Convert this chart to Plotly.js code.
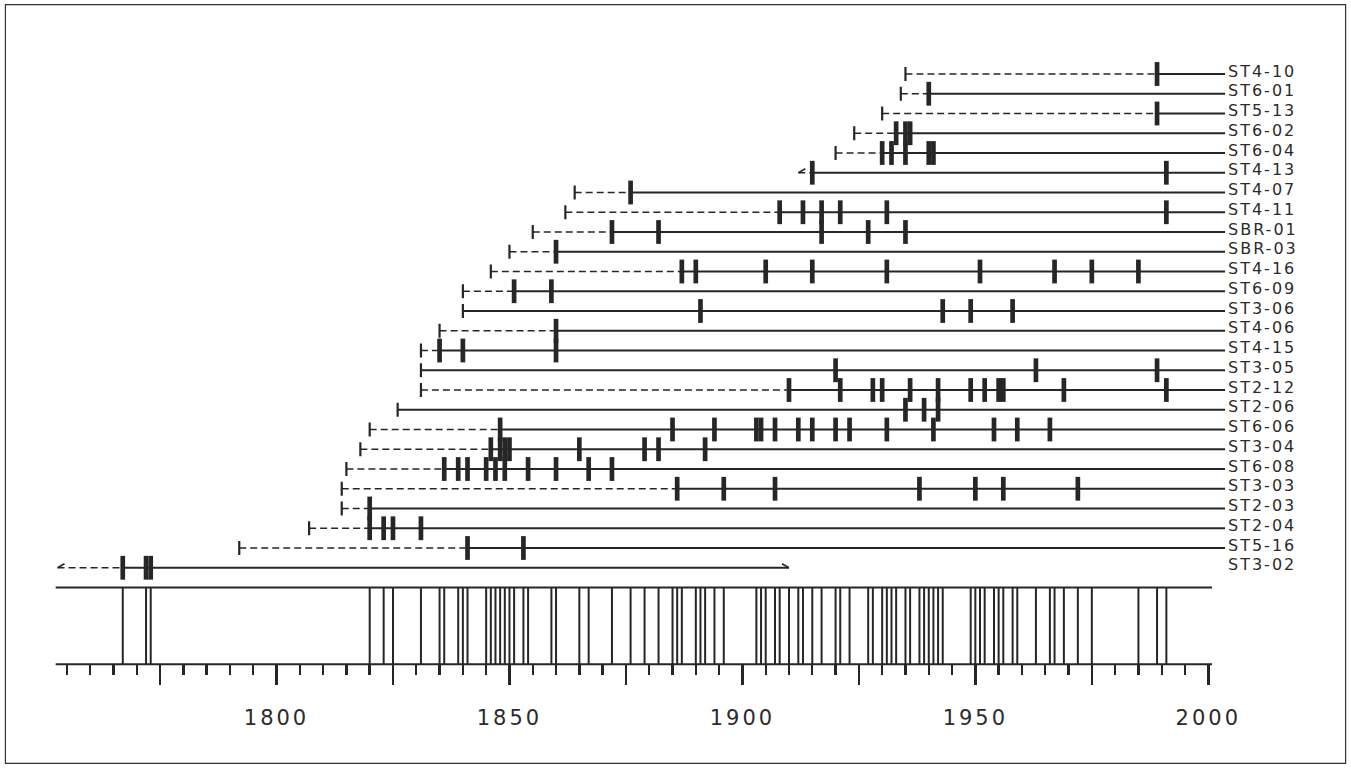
<!DOCTYPE html>
<html>
<head>
<meta charset="utf-8">
<script src="https://cdn.plot.ly/plotly-3.0.1.min.js"></script>
<style>
  html, body { margin: 0; padding: 0; background: #fff; }
  #chart { width: 1351px; height: 768px; }
  .annotation-text { letter-spacing: 2px; }
  .xtick text { letter-spacing: 3px; }
</style>
</head>
<body>
<div id="chart"></div>
<script>
// Fire-scar history: one row per sampled tree, composite of all scar years below.
const names = ['ST4-10', 'ST6-01', 'ST5-13', 'ST6-02', 'ST6-04', 'ST4-13', 'ST4-07', 'ST4-11',
  'SBR-01', 'SBR-03', 'ST4-16', 'ST6-09', 'ST3-06', 'ST4-06', 'ST4-15', 'ST3-05', 'ST2-12',
  'ST2-06', 'ST6-06', 'ST3-04', 'ST6-08', 'ST3-03', 'ST2-03', 'ST2-04', 'ST5-16', 'ST3-02'];

// innermost ring of each sample
const innerYear = [1935, 1934, 1930, 1924, 1920, 1912, 1864, 1862, 1855, 1850, 1846, 1840, 1840,
  1835, 1831, 1831, 1831, 1826, 1820, 1818, 1815, 1814, 1814, 1807, 1792, 1753];

// 'pith' = inner ring marked by a bar, 'open' = inner ring not reached (arrow)
const innerKind = ['pith', 'pith', 'pith', 'pith', 'pith', 'open', 'pith', 'pith', 'pith', 'pith',
  'pith', 'pith', 'pith', 'pith', 'pith', 'pith', 'pith', 'pith', 'pith', 'pith', 'pith', 'pith',
  'pith', 'pith', 'pith', 'open'];

// year from which the sample is a recorder (solid line); earlier years are dashed
const recorderFrom = [1989, 1940, 1989, 1933, 1930, 1915, 1876, 1908, 1872, 1860, 1887, 1851, 1840,
  1860, 1835, 1831, 1910, 1826, 1848, 1846, 1836, 1886, 1820, 1820, 1841, 1767];

// outermost ring where the sample stops short of the sampling date (null = runs to the label)
const outerYear = [null, null, null, null, null, null, null, null, null, null, null, null, null,
  null, null, null, null, null, null, null, null, null, null, null, null, 1910];

// fire-scar years per sample
const fireScars = [
  [1989],
  [1940],
  [1989],
  [1933, 1935, 1936],
  [1930, 1932, 1935, 1940, 1941],
  [1915, 1991],
  [1876],
  [1908, 1913, 1917, 1921, 1931, 1991],
  [1872, 1882, 1917, 1927, 1935],
  [1860],
  [1887, 1890, 1905, 1915, 1931, 1951, 1967, 1975, 1985],
  [1851, 1859],
  [1891, 1943, 1949, 1958],
  [1860],
  [1835, 1840, 1860],
  [1920, 1963, 1989],
  [1910, 1921, 1928, 1930, 1936, 1942, 1949, 1952, 1955, 1956, 1969, 1991],
  [1935, 1939, 1942],
  [1848, 1885, 1894, 1903, 1904, 1907, 1912, 1915, 1920, 1923, 1931, 1941, 1954, 1959, 1966],
  [1846, 1848, 1849, 1850, 1865, 1879, 1882, 1892],
  [1836, 1839, 1841, 1845, 1847, 1849, 1854, 1860, 1867, 1872],
  [1886, 1896, 1907, 1938, 1950, 1956, 1972],
  [1820],
  [1820, 1823, 1825, 1831],
  [1841, 1853],
  [1767, 1772, 1773]
];

// axis ticks
const majorTicks = [1775, 1800, 1825, 1850, 1875, 1900, 1925, 1950, 1975, 2000];
const majorLabels = ['', '1800', '', '1850', '', '1900', '', '1950', '', '2000'];
const minorTicks = [1755, 1760, 1765, 1770, 1780, 1785, 1790, 1795, 1805, 1810, 1815, 1820,
  1830, 1835, 1840, 1845, 1855, 1860, 1865, 1870, 1880, 1885, 1890, 1895, 1905, 1910, 1915,
  1920, 1930, 1935, 1940, 1945, 1955, 1960, 1965, 1970, 1980, 1985, 1990, 1995];

// ---- drawing ----
const INK = '#262626';
const LINE_END = 2003.6;      // series lines run up to the labels
const LABEL_X = 2003.8;
const AXIS_FROM = 1752.6, AXIS_TO = 2000.8;
const COMP_TOP = 26.0, COMP_BOTTOM = 29.89;   // composite band, in row units

const dashed = { x: [], y: [] };
const solid = { x: [], y: [] };
const pith = { x: [], y: [] };
const arrows = { x: [], y: [] };
const scars = { x: [], y: [] };

names.forEach((name, i) => {
  const end = outerYear[i] === null ? LINE_END : outerYear[i];
  if (recorderFrom[i] > innerYear[i]) {
    dashed.x.push(innerYear[i], recorderFrom[i], null);
    dashed.y.push(i, i, null);
  }
  solid.x.push(recorderFrom[i], end, null);
  solid.y.push(i, i, null);
  if (innerKind[i] === 'pith') {
    pith.x.push(innerYear[i]);
    pith.y.push(i);
  } else {
    arrows.x.push(innerYear[i] + 1.5, innerYear[i], null);
    arrows.y.push(i - 0.2, i, null);
  }
  if (outerYear[i] !== null) {
    arrows.x.push(outerYear[i] - 1.5, outerYear[i], null);
    arrows.y.push(i - 0.2, i, null);
  }
  fireScars[i].forEach(yr => { scars.x.push(yr); scars.y.push(i); });
});

// composite: every year scarred on at least one sample
const compositeYears = Array.from(new Set(fireScars.flat())).sort((a, b) => a - b);
const comp = { x: [], y: [] };
compositeYears.forEach(yr => { comp.x.push(yr, yr, null); comp.y.push(COMP_TOP, COMP_BOTTOM, null); });

const traces = [
  { x: dashed.x, y: dashed.y, mode: 'lines', line: { color: INK, width: 1.4, dash: '7px,4px' } },
  { x: solid.x, y: solid.y, mode: 'lines', line: { color: INK, width: 2 } },
  { x: arrows.x, y: arrows.y, mode: 'lines', line: { color: INK, width: 1.6 } },
  { x: pith.x, y: pith.y, mode: 'markers',
    marker: { symbol: 'line-ns', size: 10, line: { color: INK, width: 2.2 } } },
  { x: scars.x, y: scars.y, mode: 'markers',
    marker: { symbol: 'line-ns', size: 17, line: { color: INK, width: 4.7 } } },
  { x: comp.x, y: comp.y, mode: 'lines', line: { color: INK, width: 2 } },
  { x: [AXIS_FROM, AXIS_TO, null, AXIS_FROM, AXIS_TO], y: [COMP_TOP, COMP_TOP, null, COMP_BOTTOM, COMP_BOTTOM],
    mode: 'lines', line: { color: INK, width: 2 } }
].map(t => Object.assign({ type: 'scatter', hoverinfo: 'skip', showlegend: false, cliponaxis: false }, t));

const annotations = names.map((name, i) => ({
  x: LABEL_X, y: i, xref: 'x', yref: 'y', text: name, showarrow: false,
  xanchor: 'left', yanchor: 'middle', yshift: 3,
  font: { family: 'DejaVu Sans', size: 16, color: '#2b2b2b' }
}));

const layout = {
  width: 1351, height: 768,
  margin: { l: 0, r: 0, t: 0, b: 0 },
  paper_bgcolor: '#ffffff', plot_bgcolor: '#ffffff',
  showlegend: false,
  xaxis: {
    range: [1740.65, 2030.63], anchor: 'free', position: 1 - 664.3 / 768,
    showgrid: false, zeroline: false, showline: false,
    ticks: 'outside', tickmode: 'array', tickvals: majorTicks, ticktext: majorLabels,
    ticklen: 20, tickwidth: 2.4, tickcolor: INK, ticklabelstandoff: 14,
    tickfont: { family: 'DejaVu Sans', size: 21, color: '#2b2b2b' },
    minor: { tickmode: 'array', tickvals: minorTicks, ticks: 'outside', ticklen: 10, tickwidth: 2.4, tickcolor: INK }
  },
  yaxis: { range: [(768 - 74) / 19.75, -74 / 19.75], visible: false, showgrid: false, zeroline: false },
  annotations: annotations,
  shapes: [
    { type: 'rect', xref: 'paper', yref: 'paper', x0: 0.004, x1: 0.996, y0: 0.006, y1: 0.994,
      line: { color: '#333', width: 1.2 }, fillcolor: 'rgba(0,0,0,0)' }
  ]
};

Plotly.newPlot('chart', traces, layout, { staticPlot: true, displayModeBar: false });
</script>
</body>
</html>
